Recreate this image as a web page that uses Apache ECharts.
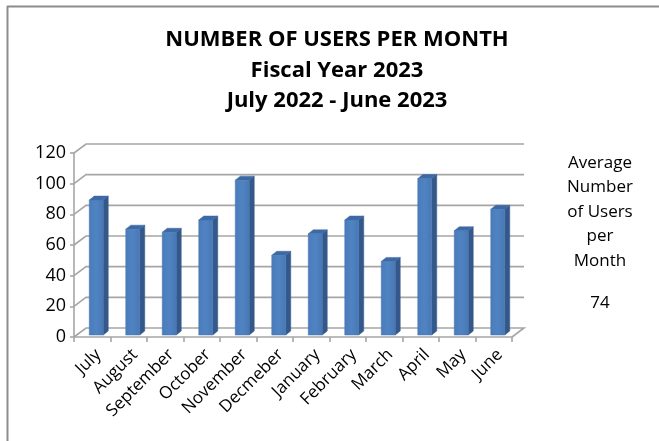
<!DOCTYPE html>
<html>
<head>
<meta charset="utf-8">
<script src="https://cdn.jsdelivr.net/npm/echarts@6/dist/echarts.min.js"></script>
<style>
html,body{margin:0;padding:0;background:#fff;}
#chart{width:659px;height:441px;}
</style>
</head>
<body>
<div id="chart"></div>
<script>
var months = ['July','August','September','October','November','Decmeber','January','February','March','April','May','June'];
var users = [88, 69, 67, 75, 101, 52, 66, 75, 48, 102, 68, 82];
var yTicks = [0, 20, 40, 60, 80, 100, 120];
var titleLines = ['NUMBER OF USERS PER MONTH', 'Fiscal Year 2023', 'July 2022 - June 2023'];
var sideLines = ['Average', 'Number', 'of Users', 'per', 'Month'];
var avgText = '74';

var FONT = 'Open Sans, Noto Sans, Liberation Sans, sans-serif';
var GRID_COLOR = '#A6A6A6';
var WALL_DX = 12, WALL_DY = -9;
var BAR_DX = 5, BAR_DY = -4;

var chart = echarts.init(document.getElementById('chart'), null, {renderer: 'canvas'});

function gridRender(params, api) {
  var cs = params.coordSys;
  var v = api.value(0);
  var y = api.coord([0, v])[1];
  var x0 = cs.x, x1 = cs.x + cs.width;
  var pts = [[x0, y], [x0 + WALL_DX, y + WALL_DY], [x1 + WALL_DX, y + WALL_DY]];
  if (v === 0) { pts.push([x1, y]); }
  return {type: 'polyline', shape: {points: pts}, style: {stroke: GRID_COLOR, lineWidth: 1.6, fill: null}};
}

function barRender(params, api) {
  var idx = api.value(0);
  var top = api.coord([idx, api.value(1)]);
  var base = api.coord([idx, 0]);
  var L = top[0] - 3, R = top[0] + 11;
  var T = top[1] - 2, B = base[1] - 2;
  return {
    type: 'group',
    children: [
      {type: 'polygon', shape: {points: [[R, T], [R + BAR_DX, T + BAR_DY], [R + BAR_DX, B + BAR_DY], [R, B]]},
       style: {fill: '#34588A', stroke: '#34588A', lineWidth: 0.5}},
      {type: 'polygon', shape: {points: [[L, T], [R, T], [R + BAR_DX, T + BAR_DY], [L + BAR_DX, T + BAR_DY]]},
       style: {fill: '#3D69A5', stroke: '#3D69A5', lineWidth: 0.5}},
      {type: 'rect', shape: {x: L, y: T, width: R - L, height: B - T},
       style: {fill: new echarts.graphic.LinearGradient(0, 0, 1, 0, [{offset: 0, color: '#4A7CBA'}, {offset: 0.5, color: '#5083C2'}, {offset: 1, color: '#4878B5'}]), stroke: '#4573AE', lineWidth: 0.5}}
    ]
  };
}

var graphics = [
  {type: 'line', shape: {x1: 7, y1: 6.5, x2: 659, y2: 6.5}, style: {stroke: '#8C8C8C', lineWidth: 2}},
  {type: 'line', shape: {x1: 7.5, y1: 6, x2: 7.5, y2: 441}, style: {stroke: '#8C8C8C', lineWidth: 2}}
];
sideLines.forEach(function (t, i) {
  graphics.push({type: 'text', x: 600, y: 163 + i * 24.5,
    style: {text: t, x: 0, y: 0, textAlign: 'center', textVerticalAlign: 'middle', font: '17px ' + FONT, fill: '#000'}});
});
graphics.push({type: 'text', x: 600, y: 303,
  style: {text: avgText, x: 0, y: 0, textAlign: 'center', textVerticalAlign: 'middle', font: '17px ' + FONT, fill: '#000'}});
titleLines.forEach(function (t, i) {
  graphics.push({type: 'text', x: 337, y: 40 + i * 30.5,
    style: {text: t, x: 0, y: 0, textAlign: 'center', textVerticalAlign: 'middle', font: 'bold 22px ' + FONT, fill: '#000'}});
});

chart.setOption({
  animation: false,
  backgroundColor: '#fff',
  grid: {left: 74, right: 147, top: 153, bottom: 104, containLabel: false},
  xAxis: {
    type: 'category', data: months,
    axisLine: {show: true, lineStyle: {color: GRID_COLOR, width: 1.6}},
    axisTick: {show: true, length: 5, lineStyle: {color: GRID_COLOR, width: 1.6}},
    axisLabel: {rotate: 45, margin: 9, fontSize: 17, fontFamily: FONT, color: '#000', interval: 0, verticalAlign: 'top'}
  },
  yAxis: {
    type: 'value', min: 0, max: 120, interval: 20,
    axisLine: {show: true, lineStyle: {color: GRID_COLOR, width: 1.6}},
    axisTick: {show: true, length: 4, lineStyle: {color: GRID_COLOR, width: 1.6}},
    axisLabel: {fontSize: 18, fontFamily: FONT, color: '#000', margin: 8},
    splitLine: {show: false}
  },
  graphic: graphics,
  series: [
    {type: 'custom', renderItem: gridRender, data: yTicks.map(function (v) { return [v]; }), z: 1, silent: true},
    {type: 'custom', renderItem: barRender, data: users.map(function (v, i) { return [i, v]; }), z: 3,
     encode: {x: 0, y: 1}}
  ]
});
</script>
</body>
</html>
